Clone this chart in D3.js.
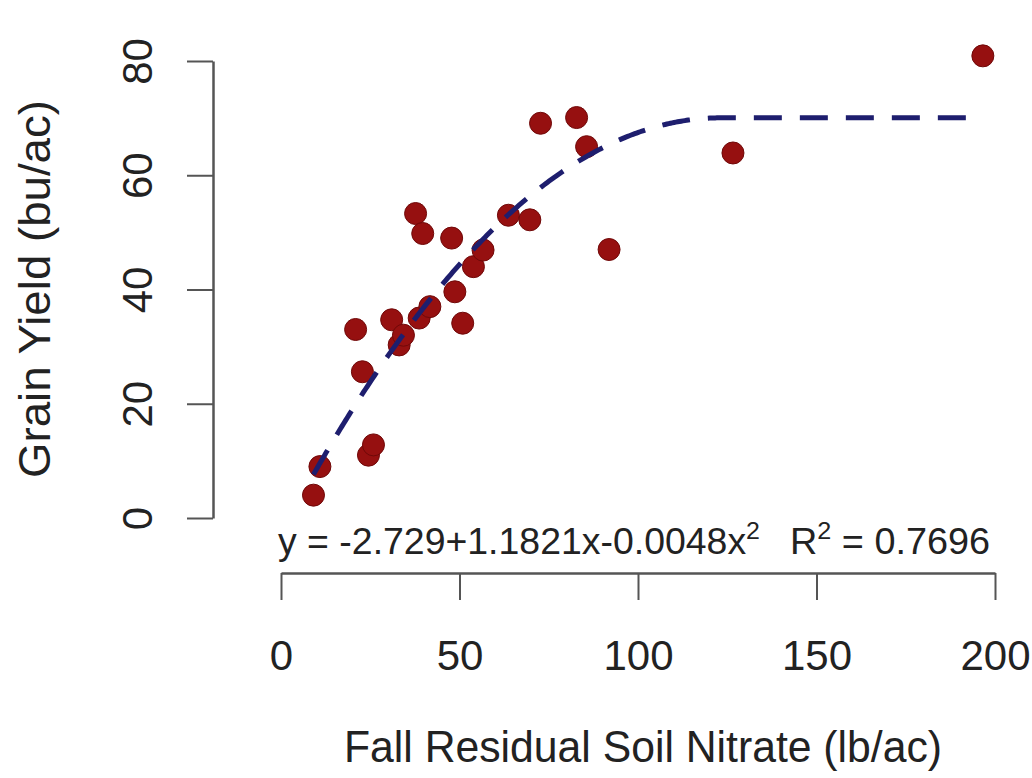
<!DOCTYPE html>
<html>
<head>
<meta charset="utf-8">
<script src="https://cdn.jsdelivr.net/npm/d3@7"></script>
<style>
  body { margin: 0; background: #fff; }
  text { font-family: "Liberation Sans", Arial, sans-serif; fill: #222; }
</style>
</head>
<body>
<div id="chart"></div>
<script>
// fall residual soil nitrate (lb/ac) and grain yield (bu/ac)
var nitrate = [9.1, 10.9, 20.9, 22.8, 24.5, 25.9, 31.0, 33.1, 34.3, 37.7, 39.7, 38.7, 41.7,
               47.8, 48.7, 50.9, 53.9, 56.6, 63.7, 69.7, 72.7, 82.8, 85.6, 91.9, 126.6, 196.6];
var yield_ = [4.0, 9.0, 33.0, 25.6, 11.0, 12.8, 34.7, 30.3, 32.0, 53.3, 49.8, 35.0, 37.0,
              49.0, 39.6, 34.1, 44.0, 46.9, 53.0, 52.2, 69.1, 70.1, 65.0, 47.0, 63.9, 80.9];
// quadratic-plateau fit shown on the chart
var coef = [-2.729, 1.1821, -0.0048];
var r2 = "0.7696";
var xTicks = [0, 50, 100, 150, 200];
var yTicks = [0, 20, 40, 60, 80];

var width = 1032, height = 778;
var axis_color = "#555";
var point_color = "#961010";
var line_color = "#1e1e6e";

var svg = d3.select("#chart").append("svg")
  .attr("width", width)
  .attr("height", height);

var x = d3.scaleLinear().domain([0, 200]).range([281, 995]);
var y = d3.scaleLinear().domain([0, 80]).range([518, 61]);

// x axis (drawn below the plot, R style)
var xAxis = svg.append("g")
  .attr("transform", "translate(0,573)")
  .call(d3.axisBottom(x).tickValues(xTicks).tickSize(27).tickPadding(40).tickSizeOuter(0));
xAxis.select(".domain").attr("stroke", axis_color).attr("stroke-width", 2.5);
xAxis.selectAll(".tick line").attr("stroke", axis_color).attr("stroke-width", 2);
xAxis.selectAll(".tick text")
  .attr("font-size", "42px")
  .attr("font-family", "Liberation Sans, Arial, sans-serif")
  .attr("fill", "#222");

// y axis
var yAxis = svg.append("g")
  .attr("transform", "translate(213,0)")
  .call(d3.axisLeft(y).tickValues(yTicks).tickSize(26).tickSizeOuter(0));
yAxis.select(".domain").attr("stroke", axis_color).attr("stroke-width", 2.5);
yAxis.selectAll(".tick line").attr("stroke", axis_color).attr("stroke-width", 2);
yAxis.selectAll(".tick text").remove();
yAxis.selectAll(".tick").append("text")
  .attr("transform", "translate(-61,0) rotate(-90)")
  .attr("text-anchor", "middle")
  .attr("font-size", "42px")
  .attr("fill", "#222")
  .text(function(d){ return d; });

// points
svg.append("g").selectAll("circle")
  .data(nitrate)
  .enter().append("circle")
    .attr("cx", function(d){ return x(d); })
    .attr("cy", function(d, i){ return y(yield_[i]); })
    .attr("r", 11)
    .attr("fill", point_color)
    .attr("stroke", "#700808")
    .attr("stroke-width", 1);

// fitted curve, flat after the vertex
var xPeak = -coef[1] / (2 * coef[2]);
function fit(v){
  var t = Math.min(v, xPeak);
  return coef[0] + coef[1] * t + coef[2] * t * t;
}
var xs = d3.range(d3.min(nitrate), d3.max(nitrate), 0.5).concat([d3.max(nitrate)]);
var line = d3.line()
  .x(function(d){ return x(d); })
  .y(function(d){ return y(fit(d)); });
svg.append("path")
  .datum(xs)
  .attr("d", line)
  .attr("fill", "none")
  .attr("stroke", line_color)
  .attr("stroke-width", 5)
  .attr("stroke-dasharray", "28,18");

// equation
var eq = svg.append("text")
  .attr("x", 278).attr("y", 554)
  .attr("font-size", "36px")
  .attr("textLength", 482)
  .attr("lengthAdjust", "spacingAndGlyphs");
eq.append("tspan").text("y = " + coef[0] + "+" + coef[1] + "x" + coef[2] + "x");
eq.append("tspan").attr("font-size", "24px").attr("dy", -15).text("2");

var rt = svg.append("text")
  .attr("x", 790).attr("y", 554)
  .attr("font-size", "36px")
  .attr("textLength", 200)
  .attr("lengthAdjust", "spacingAndGlyphs");
rt.append("tspan").text("R");
rt.append("tspan").attr("font-size", "24px").attr("dy", -15).text("2");
rt.append("tspan").attr("dy", 15).text(" = " + r2);

// axis titles
svg.append("text")
  .attr("x", 643).attr("y", 762)
  .attr("text-anchor", "middle")
  .attr("font-size", "44px")
  .attr("textLength", 598)
  .attr("lengthAdjust", "spacingAndGlyphs")
  .text("Fall Residual Soil Nitrate (lb/ac)");

svg.append("text")
  .attr("transform", "translate(50,289) rotate(-90)")
  .attr("text-anchor", "middle")
  .attr("font-size", "44px")
  .attr("textLength", 378)
  .attr("lengthAdjust", "spacingAndGlyphs")
  .text("Grain Yield (bu/ac)");
</script>
</body>
</html>
